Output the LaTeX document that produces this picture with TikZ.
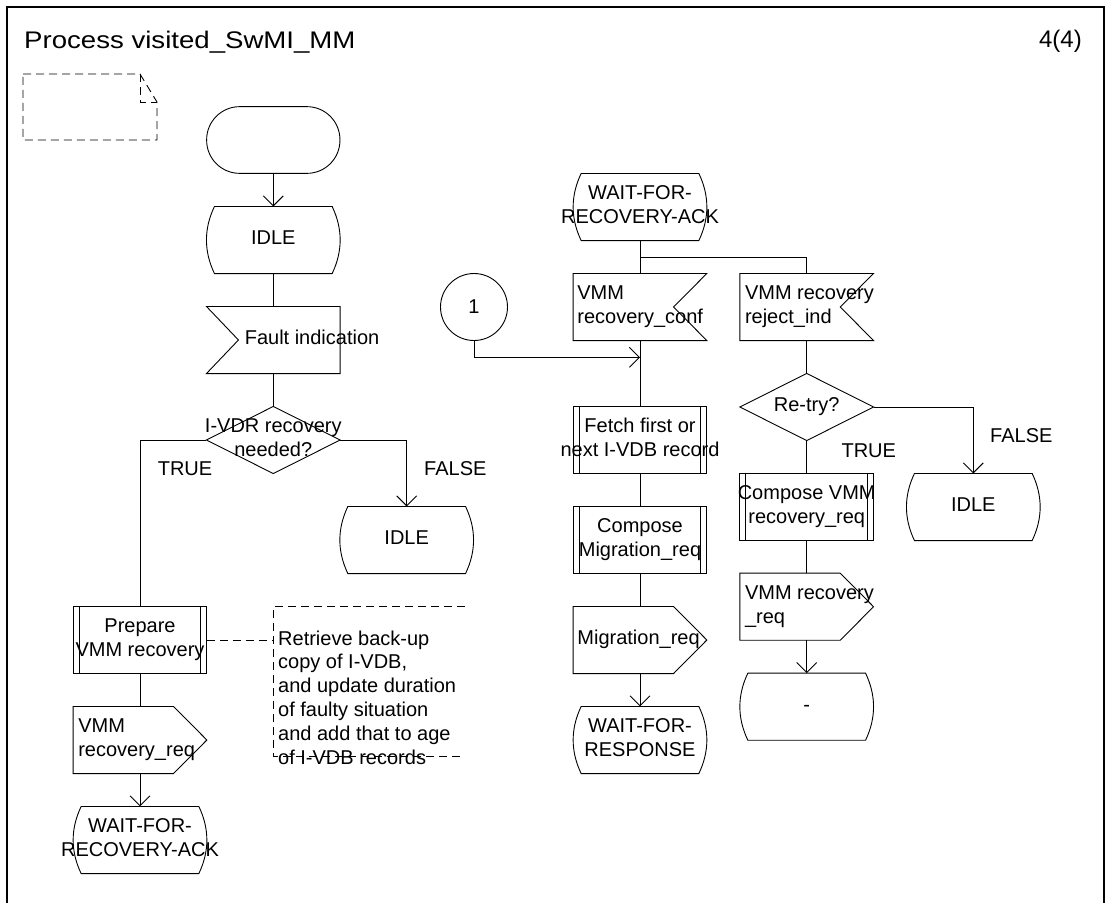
\documentclass[tikz,border=0pt]{standalone}
\usepackage{fontspec}
\usepackage{graphicx}
\setmainfont{Liberation Sans}
\usetikzlibrary{arrows.meta,calc}

\newcommand\CT[1]{\makebox[0pt][c]{\begin{tabular}{@{}c@{}}#1\end{tabular}}}
\newcommand\LT[2]{\makebox[0pt][l]{\hspace*{#1}\begin{tabular}{@{}l@{}}#2\end{tabular}}}

\newcommand\SDLstate[1]{%
 \draw[flow] ($(#1.north west)+(8,0)$) -- ($(#1.north east)+(-8,0)$)
  .. controls ($(#1.north east)!0.3333!(#1.south east)+(2.67,0)$) and ($(#1.north east)!0.6667!(#1.south east)+(2.67,0)$) .. ($(#1.south east)+(-8,0)$)
  -- ($(#1.south west)+(8,0)$)
  .. controls ($(#1.south west)!0.3333!(#1.north west)+(-2.67,0)$) and ($(#1.south west)!0.6667!(#1.north west)+(-2.67,0)$) .. ($(#1.north west)+(8,0)$) -- cycle;}
\newcommand\SDLinR[1]{\draw[flow] (#1.north west) -- (#1.north east) -- ($(#1.east)+(-33.3,0)$) -- (#1.south east) -- (#1.south west) -- cycle;}
\newcommand\SDLinL[1]{\draw[flow] (#1.north west) -- (#1.north east) -- (#1.south east) -- (#1.south west) -- ($(#1.west)+(32,0)$) -- cycle;}
\newcommand\SDLout[1]{\draw[flow] (#1.north west) -- ($(#1.north east)+(-33.3,0)$) -- (#1.east) -- ($(#1.south east)+(-33.3,0)$) -- (#1.south west) -- cycle;}
\newcommand\SDLproc[1]{\draw[flow] (#1.north west) rectangle (#1.south east);
 \draw[flow] ($(#1.north west)+(6,0)$) -- ($(#1.south west)+(6,0)$);
 \draw[flow] ($(#1.north east)+(-6,0)$) -- ($(#1.south east)+(-6,0)$);}
\newcommand\SDLdec[1]{\draw[flow] (#1.north) -- (#1.east) -- (#1.south) -- (#1.west) -- cycle;}

\begin{document}
\begin{tikzpicture}[
  x=1pt, y=-1pt,
  every node/.style={font=\fontsize{20}{23.5}\selectfont, inner sep=0pt},
  sym/.style={minimum width=133.3pt, minimum height=66.7pt, inner sep=0pt},
  flow/.style={line width=0.9pt, draw=black},
  arr/.style={flow, -{Straight Barb[length=10pt,width=20pt]}},
  cmtline/.style={line width=0.9pt, dash pattern=on 8pt off 5pt},
]
\useasboundingbox (0,0) rectangle (1106,903);
% frame
\draw[line width=1.4pt] (7,903) -- (7,7) -- (1104,7) -- (1104,903);
\node[anchor=base west] (title) at (24,48.3) {\scalebox{1.15}[1]{\fontsize{24}{28}\selectfont Process visited\_SwMI\_MM}};
\node[anchor=base east] (page) at (1082,47.7) {\fontsize{24}{28}\selectfont 4(4)};

% text symbol (dashed page)
\draw[cmtline] (23,74) -- (140,74) -- (157,102) -- (157,140) -- (23,140) -- cycle;
\draw[cmtline] (140,74) -- (140,102) -- (157,102);

% nodes
\node[sym, draw, flow, rounded corners=33pt] (start) at (273.3,140) {};
\node[sym] (idle1) at (273.3,240) {\CT{IDLE}};
\node[sym] (fault) at (273.3,340) {\LT{-28.5pt}{Fault indication}};
\node[sym] (d1) at (273.3,440) {\CT{I-VDR recovery\\needed?}};
\node[sym] (idle2) at (406.7,540) {\CT{IDLE}};
\node[sym] (prep) at (140,640) {\CT{Prepare\\VMM recovery}};
\node[sym] (req1) at (140,740) {\LT{-61.7pt}{VMM\\recovery\_req}};
\node[sym] (wra1) at (140,840) {\CT{WAIT-FOR-\\RECOVERY-ACK}};
\node[draw, flow, circle, minimum size=67pt] (c1) at (474,307) {1};
\node[sym] (wra2) at (640,207) {\CT{WAIT-FOR-\\RECOVERY-ACK}};
\node[sym] (conf) at (640,307) {\LT{-62.6pt}{VMM\\recovery\_conf}};
\node[sym] (rej) at (806.7,307) {\LT{-61.7pt}{VMM recovery\\reject\_ind}};
\node[sym] (fetch) at (640,440) {\CT{Fetch first or\\next I-VDB record}};
\node[sym] (comp1) at (640,540) {\CT{Compose\\Migration\_req}};
\node[sym] (mig) at (640,640) {\LT{-62.6pt}{Migration\_req}};
\node[sym] (wfr) at (640,740) {\CT{WAIT-FOR-\\RESPONSE}};
\node[sym] (d2) at (806.7,407) {\CT{Re-try?}};
\node[sym] (comp2) at (806.7,506.7) {\CT{Compose VMM\\recovery\_req}};
\node[sym] (req2) at (806.7,606.7) {\LT{-61.7pt}{VMM recovery\\\_req}};
\node[sym] (same) at (806.7,706.7) {\CT{-}};
\node[sym] (idle3) at (973.3,507) {\CT{IDLE}};

% outlines
\SDLstate{idle1}
\SDLinL{fault}
\SDLdec{d1}
\SDLstate{idle2}
\SDLproc{prep}
\SDLout{req1}
\SDLstate{wra1}
\SDLstate{wra2}
\SDLinR{conf}
\SDLinR{rej}
\SDLproc{fetch}
\SDLproc{comp1}
\SDLout{mig}
\SDLstate{wfr}
\SDLdec{d2}
\SDLproc{comp2}
\SDLout{req2}
\SDLstate{same}
\SDLstate{idle3}

% labels
\node (t1) at (185,468.3) {TRUE};
\node (f1) at (455.3,468.3) {FALSE};
\node (t2) at (868.8,451.2) {TRUE};
\node (f2) at (1021.3,435.5) {FALSE};

% comment
\node[anchor=west, align=left, font=\fontsize{20}{23.8}\selectfont] (cmt) at (278,697.5) {Retrieve back-up\\copy of I-VDB,\\and update duration\\of faulty situation\\and add that to age\\of I-VDB records};
\draw[cmtline] (465,606.7) -- (273.3,606.7) -- (273.3,756) -- (465,756);
\coordinate (cmtL) at (273.3,640);
\draw[cmtline] (prep.east) -- (cmtL);

% connectors
\draw[arr] (start.south) -- (idle1.north);
\draw[flow] (idle1.south) -- (fault.north);
\draw[flow] (fault.south) -- (d1.north);
\draw[flow] (d1.west) -| (prep.north);
\draw[arr] (d1.east) -| (idle2.north);
\draw[flow] (prep.south) -- (req1.north);
\draw[arr] (req1.south) -- (wra1.north);
\draw[flow] (wra2.south) -- (conf.north);
\draw[flow] (wra2.south) -- ++(0,16.7) -| (rej.north);
\draw[flow] (conf.south) -- (fetch.north);
\coordinate (j1) at (640,357.3);
\draw[arr] (c1.south) |- (j1);
\draw[flow] (fetch.south) -- (comp1.north);
\draw[flow] (comp1.south) -- (mig.north);
\draw[arr] (mig.south) -- (wfr.north);
\draw[flow] (rej.south) -- (d2.north);
\draw[flow] (d2.south) -- (comp2.north);
\draw[arr] (d2.east) -| (idle3.north);
\draw[flow] (comp2.south) -- (req2.north);
\draw[arr] (req2.south) -- (same.north);
\end{tikzpicture}
\end{document}
